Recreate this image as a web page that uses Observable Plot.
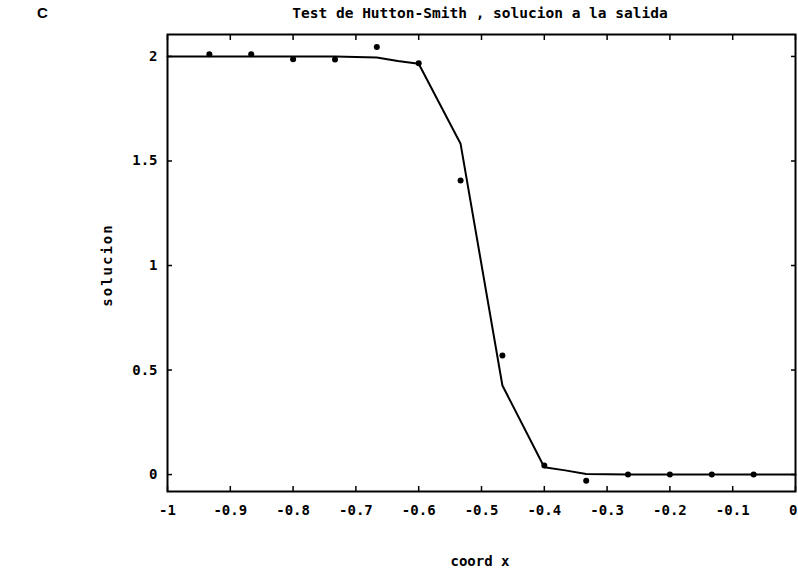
<!DOCTYPE html>
<html><head><meta charset="utf-8">
<script src="https://cdn.jsdelivr.net/npm/d3@7"></script>
<script src="https://cdn.jsdelivr.net/npm/@observablehq/plot@0.6"></script>
<style>
body{margin:0;background:#fff;}
#wrap{position:relative;width:798px;height:574px;overflow:hidden;}
.lbl{position:absolute;font-family:"DejaVu Sans Mono",monospace;font-weight:bold;color:#000;white-space:nowrap;}
</style></head><body><div id="wrap"></div>
<script>
// Data
const lineX = [-1, -0.9333, -0.8667, -0.8, -0.7333, -0.6667, -0.6333, -0.6, -0.5333, -0.4667, -0.4, -0.3667, -0.3333, -0.2667, -0.2, -0.1333, -0.0667, 0];
const lineY = [2.0, 2.0, 2.0, 2.0, 2.0, 1.995, 1.978, 1.965, 1.582, 0.426, 0.035, 0.02, 0.003, 0.0, 0.0, 0.0, 0.0, 0.0];
const markX = [-0.9333, -0.8667, -0.8, -0.7333, -0.6667, -0.6, -0.5333, -0.4667, -0.4, -0.3333, -0.2667, -0.2, -0.1333, -0.0667];
const markY = [2.01, 2.01, 1.987, 1.985, 2.045, 1.968, 1.407, 0.569, 0.043, -0.029, 0.0, 0.0, 0.0, 0.0];
const xTicks = [-1, -0.9, -0.8, -0.7, -0.6, -0.5, -0.4, -0.3, -0.2, -0.1, 0];
const yTicks = [0, 0.5, 1, 1.5, 2];
const xDomain = [-1, 0];
const yDomain = [-0.081, 2.105];
const titleText = "Test de Hutton-Smith , solucion a la salida";
const xLabelText = "coord x";
const yLabelText = "solucion";
const panelText = "C";

const lineData = lineX.map((x, i) => ({x, y: lineY[i]}));
const markData = markX.map((x, i) => ({x, y: markY[i]}));
const fmt = d => String(+d.toFixed(1));
const font = {fontFamily: "DejaVu Sans Mono", fontWeight: "bold", fontSize: 14};
const xTicksInner = xTicks.slice(0, -1);
const xTickLast = xTicks.slice(-1);

const chart = Plot.plot({
  width: 798, height: 574,
  marginLeft: 167, marginRight: 3, marginTop: 34, marginBottom: 83,
  x: {domain: xDomain},
  y: {domain: yDomain},
  style: {background: "#fff", color: "#000", fontFamily: "DejaVu Sans Mono"},
  marks: [
    Plot.axisX({anchor: "bottom", ticks: xTicksInner, tickFormat: fmt, tickSize: 0, tickPadding: 14, label: null, ...font}),
    Plot.axisX({anchor: "bottom", ticks: xTickLast, tickFormat: fmt, tickSize: 0, tickPadding: 14, label: null, textAnchor: "end", dx: 2, ...font}),
    Plot.axisX({anchor: "bottom", ticks: xTicks, tickSize: 5, dy: -5, fill: "none", label: null, strokeWidth: 1.5}),
    Plot.axisX({anchor: "top", ticks: xTicks, tickSize: 5, dy: 5, fill: "none", label: null, strokeWidth: 1.5}),
    Plot.axisY({anchor: "left", ticks: yTicks, tickFormat: fmt, tickSize: 0, tickPadding: 10, label: null, ...font}),
    Plot.axisY({anchor: "left", ticks: yTicks, tickSize: 5, dx: 5, fill: "none", label: null, strokeWidth: 1.5}),
    Plot.axisY({anchor: "right", ticks: yTicks, tickSize: 5, dx: -5, fill: "none", label: null, strokeWidth: 1.5}),
    Plot.frame({stroke: "#000", strokeWidth: 2}),
    Plot.line(lineData, {x: "x", y: "y", stroke: "#000", strokeWidth: 2}),
    Plot.dot(markData, {x: "x", y: "y", r: 3, fill: "#000", stroke: "none"})
  ]
});
const wrap = document.getElementById("wrap");
wrap.appendChild(chart);

function addLabel(text, css) {
  const d = document.createElement("div");
  d.className = "lbl";
  d.textContent = text;
  Object.assign(d.style, css);
  wrap.appendChild(d);
  return d;
}
addLabel(panelText, {left: "37px", top: "4px", fontFamily: "Liberation Sans, Arial, sans-serif", fontSize: "15px"});
addLabel(titleText, {left: "480px", top: "5px", fontSize: "14.5px", transform: "translateX(-50%)"});
addLabel(xLabelText, {left: "480px", top: "553px", fontSize: "14px", transform: "translateX(-50%)"});
addLabel(yLabelText, {left: "107px", top: "265px", fontSize: "14px", transform: "translate(-50%,-50%) rotate(-90deg)", letterSpacing: "2px"});
</script></body></html>
